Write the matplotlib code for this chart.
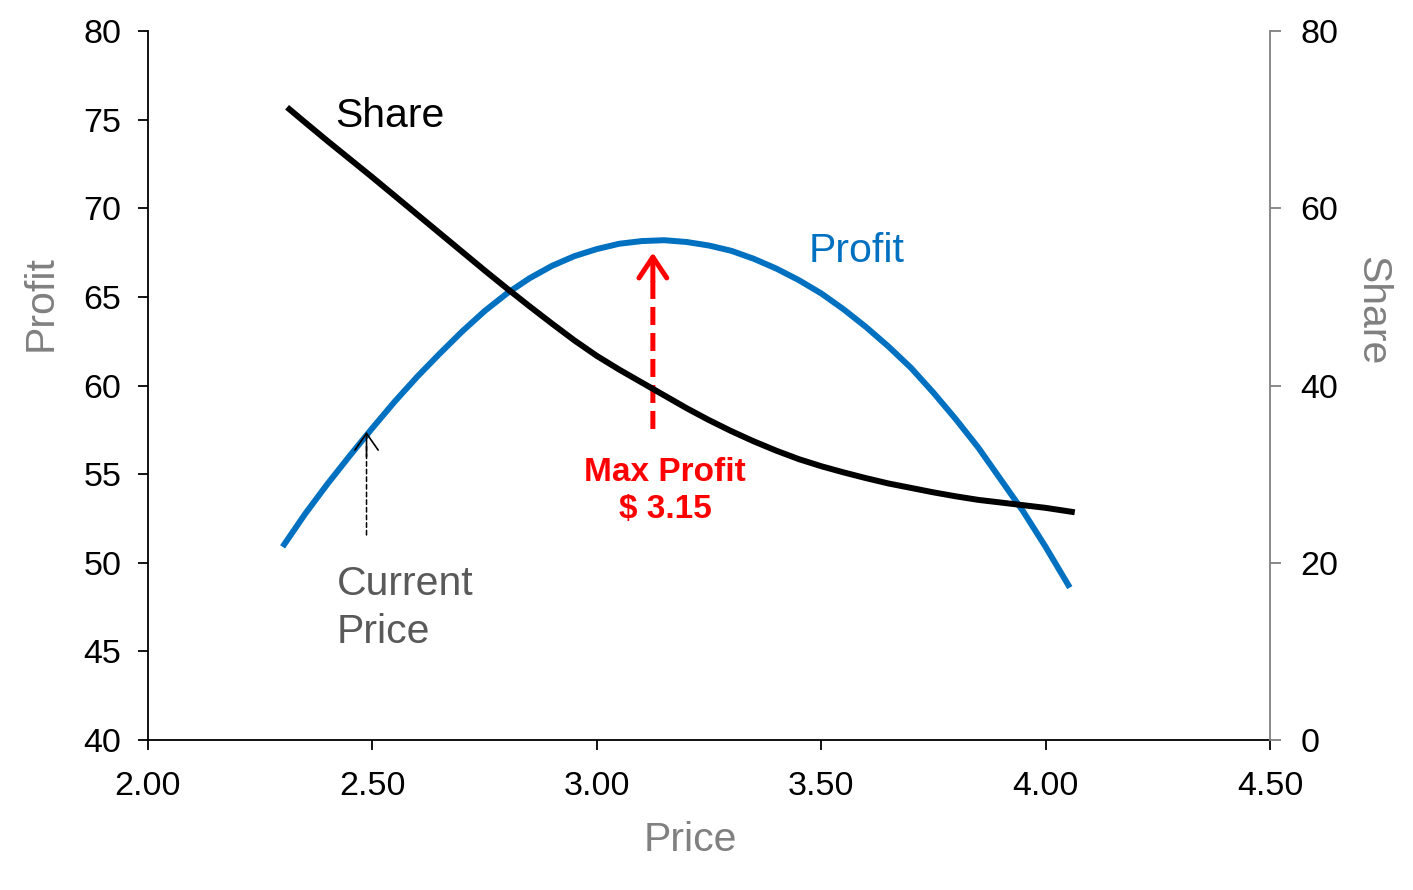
import matplotlib
matplotlib.use("Agg")
import matplotlib.pyplot as plt

plt.rcParams['font.family'] = ['Liberation Sans', 'DejaVu Sans']

# price points (x axis) for the profit curve
price = [2.30, 2.35, 2.40, 2.45, 2.50, 2.55, 2.60, 2.65, 2.70, 2.75,
         2.80, 2.85, 2.90, 2.95, 3.00, 3.05, 3.10, 3.15, 3.20, 3.25,
         3.30, 3.35, 3.40, 3.45, 3.50, 3.55, 3.60, 3.65, 3.70, 3.75,
         3.80, 3.85, 3.90, 3.95, 4.00, 4.054]
# profit curve, left axis
profit = [50.9, 52.75, 54.45, 56.05, 57.6, 59.1, 60.5, 61.8, 63.05, 64.2,
          65.2, 66.05, 66.75, 67.3, 67.7, 68.0, 68.15, 68.2, 68.1, 67.9,
          67.6, 67.15, 66.6, 65.95, 65.2, 64.3, 63.3, 62.2, 61.0, 59.6,
          58.1, 56.5, 54.7, 52.9, 50.9, 48.6]

share_price = [2.31, 2.35, 2.40, 2.45, 2.50, 2.55, 2.60, 2.65, 2.70, 2.75,
               2.80, 2.85, 2.90, 2.95, 3.00, 3.05, 3.10, 3.15, 3.20, 3.25,
               3.30, 3.35, 3.40, 3.45, 3.50, 3.55, 3.60, 3.65, 3.70, 3.75,
               3.80, 3.85, 3.90, 3.95, 4.00, 4.065]
# share curve, right axis
share = [71.4, 69.7, 67.6, 65.55, 63.5, 61.4, 59.3, 57.2, 55.1, 53.0,
         50.95, 48.95, 47.0, 45.1, 43.35, 41.8, 40.35, 38.9, 37.45, 36.1,
         34.85, 33.7, 32.65, 31.7, 30.9, 30.2, 29.55, 28.95, 28.45, 27.95,
         27.5, 27.1, 26.8, 26.5, 26.2, 25.7]

x_ticks = [2.00, 2.50, 3.00, 3.50, 4.00, 4.50]
profit_ticks = [40, 45, 50, 55, 60, 65, 70, 75, 80]
share_ticks = [0, 20, 40, 60, 80]

BLUE = '#0070C0'
GREY = '#808080'
RED = '#FF0000'

fig = plt.figure(figsize=(14.13, 8.9), dpi=100)
ax = fig.add_axes([0.1047, 0.1685, 0.7941, 0.7966])
ax2 = ax.twinx()

ax.plot(price, profit, color=BLUE, lw=4.3, solid_capstyle='butt', zorder=3)
ax2.plot(share_price, share, color='black', lw=4.3, solid_capstyle='butt', zorder=3)

ax.set_xlim(2.0, 4.5)
ax.set_ylim(40, 80)
ax2.set_ylim(0, 80)
ax.set_xticks(x_ticks)
ax.set_xticklabels([f'{v:.2f}' for v in x_ticks])
ax.set_yticks(profit_ticks)
ax2.set_yticks(share_ticks)

for a in (ax, ax2):
    a.spines['top'].set_visible(False)
ax.spines['right'].set_visible(False)
ax2.spines['left'].set_visible(False)
ax2.spines['bottom'].set_visible(False)
ax2.spines['right'].set_color(GREY)
ax2.spines['right'].set_linewidth(1.3)
ax.spines['left'].set_linewidth(1.3)
ax.spines['bottom'].set_linewidth(1.3)

ax.tick_params(axis='y', direction='out', length=7, width=1.3,
               labelsize=24.5, pad=12)
ax.tick_params(axis='x', direction='out', length=7, width=1.3,
               labelsize=24.5, pad=15)
ax2.tick_params(axis='y', direction='out', length=8, width=1.3,
                color=GREY, labelsize=24.5, pad=14)

ax.set_xlabel('Price', fontsize=29.5, color=GREY)
ax.xaxis.set_label_coords(0.483, -0.141)
ax.xaxis.label.set_va('center')
ax.set_ylabel('Profit', fontsize=29.5, color=GREY)
ax.yaxis.set_label_coords(-0.096, 0.616)
ax.yaxis.label.set_va('center')
ax2.set_ylabel('Share', fontsize=29.5, color=GREY, rotation=270)
ax2.yaxis.set_label_coords(1.091, 0.605)
ax2.yaxis.label.set_va('center')

# curve labels
ax.text(2.417, 75.2, 'Share', fontsize=29.5, color='black', ha='left', va='center')
ax.text(3.471, 67.6, 'Profit', fontsize=29.5, color=BLUE, ha='left', va='center')
ax.text(2.420, 47.45, 'Current\nPrice', fontsize=29.5, color='#595959',
        ha='left', va='center', linespacing=1.32)
ax.text(3.152, 54.05, 'Max Profit\n$ 3.15', fontsize=24, color=RED,
        fontweight='bold', ha='center', va='center', multialignment='center',
        linespacing=1.25)

# current price arrow: dashed shaft + solid head, drawn over the curve
ax.annotate('', xy=(2.487, 56.6), xytext=(2.487, 51.57), zorder=6,
            arrowprops=dict(arrowstyle='-', color='black', lw=1.1,
                            linestyle=(0, (3, 2)), shrinkA=0, shrinkB=0))
ax.annotate('', xy=(2.487, 57.38), xytext=(2.487, 56.0), zorder=6,
            arrowprops=dict(arrowstyle='->,head_length=0.6,head_width=0.42',
                            color='black', lw=1.2, mutation_scale=20,
                            shrinkA=0, shrinkB=0))

# max profit arrow
ax.annotate('', xy=(3.125, 66.3), xytext=(3.125, 57.55), zorder=6,
            arrowprops=dict(arrowstyle='-', color=RED, lw=3.6,
                            linestyle=(0, (3.6, 1.6)), shrinkA=0, shrinkB=0,
                            capstyle='butt'))
ax.annotate('', xy=(3.125, 67.5), xytext=(3.125, 65.9), zorder=6,
            arrowprops=dict(arrowstyle='->,head_length=0.75,head_width=0.5',
                            color=RED, lw=3.6, mutation_scale=20,
                            shrinkA=0, shrinkB=0))

fig.savefig('out.png', dpi=100)
